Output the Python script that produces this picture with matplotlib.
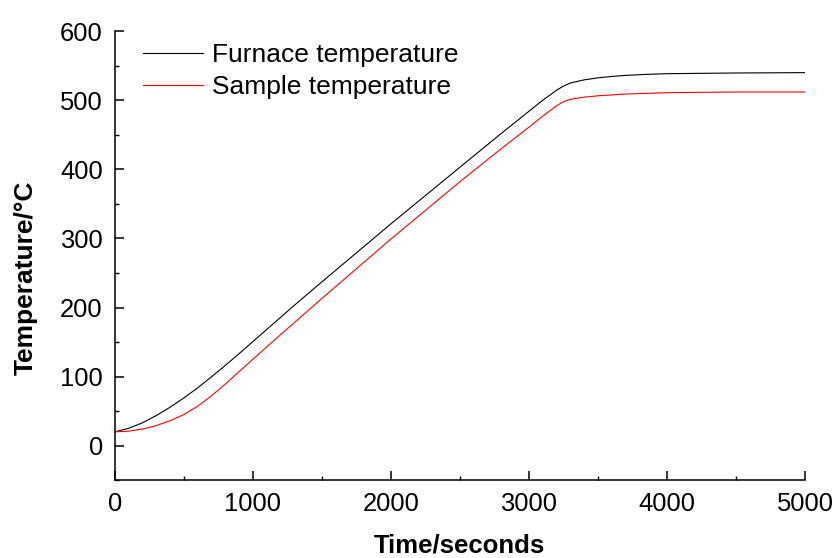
import matplotlib
matplotlib.use("Agg")
import matplotlib.pyplot as plt
from matplotlib.ticker import MultipleLocator

plt.rcParams['font.family'] = ['Liberation Sans', 'DejaVu Sans']

# Furnace thermocouple reading (seconds, deg C)
furnace_time = [0, 100, 200, 300, 400, 500, 600, 700, 800, 900, 1000, 1100,
                1200, 1300, 1500, 2000, 2500, 2800, 3000, 3100, 3200, 3250,
                3300, 3400, 3500, 3600, 3700, 3850, 4000, 4500, 5000]
furnace_temp = [20, 25, 33, 43.5, 55.5, 69, 83.5, 99.5, 116, 133, 150.5, 168,
                185.5, 203, 237, 321, 403, 452, 484, 500, 514.5, 520.5,
                525, 529.5, 532.5, 534.5, 536, 537.5, 538.5, 539.5, 540]

# Sample thermocouple reading (seconds, deg C)
sample_time = [0, 100, 200, 300, 400, 500, 600, 700, 800, 900, 1000, 1100,
               1200, 1500, 2000, 2500, 2800, 3000, 3100, 3200, 3250, 3300,
               3400, 3500, 3700, 4000, 4500, 5000]
sample_temp = [20, 21, 24, 29, 36, 45, 57, 72, 89, 107, 125, 142.7,
               160.4, 213, 299, 382, 430, 461, 477, 492, 498, 501.5,
               504.5, 506.5, 509, 511, 512, 512]

series_labels = ["Furnace temperature", "Sample temperature"]

fig = plt.figure(figsize=(8.35, 5.58), dpi=100)
ax = fig.add_axes([114.7 / 835, 1 - 480.2 / 558, (805 - 114.7) / 835, (480.2 - 31.2) / 558])

ax.plot(furnace_time, furnace_temp, color='black', lw=0.8, label=series_labels[0])
ax.plot(sample_time, sample_temp, color='#ff0000', lw=0.8, label=series_labels[1])

ax.set_xlim(0, 5000)
ax.set_ylim(-50, 600)
ax.xaxis.set_major_locator(MultipleLocator(1000))
ax.xaxis.set_minor_locator(MultipleLocator(500))
ax.yaxis.set_major_locator(MultipleLocator(100))
ax.yaxis.set_minor_locator(MultipleLocator(50))
ax.set_yticks([0, 100, 200, 300, 400, 500, 600])

for side in ('top', 'right'):
    ax.spines[side].set_visible(False)
for side in ('left', 'bottom'):
    ax.spines[side].set_linewidth(1.1)

ax.tick_params(which='major', direction='in', length=6.5, width=1.1,
               labelsize=18.4, pad=8.6)
ax.tick_params(which='minor', direction='in', length=3.2, width=1.0)

fig.text(459 / 835, 1 - 545.5 / 558, "Time/seconds", ha='center', va='center',
         fontsize=18.5, fontweight='bold')
fig.text(26 / 835, 1 - 278 / 558, "Temperature/\u00b0C", ha='center', va='center',
         rotation=90, fontsize=19, fontweight='bold')

ax.legend(loc='upper left', bbox_to_anchor=((143 - 114.7) / 690.3, (480.2 - 43) / 449),
          frameon=False, fontsize=19, handlelength=2.27, handletextpad=0.34,
          labelspacing=0.31, borderpad=0, borderaxespad=0)

fig.savefig("out.png", dpi=100)
